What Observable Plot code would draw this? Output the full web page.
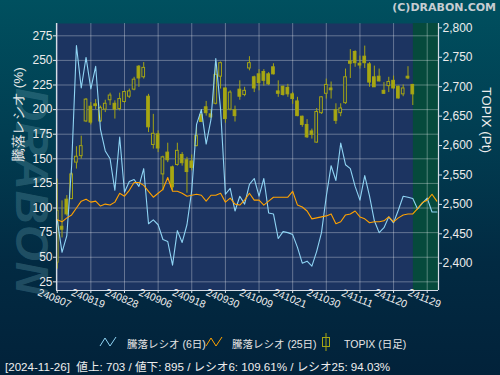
<!DOCTYPE html>
<html><head><meta charset="utf-8">
<script src="https://cdn.jsdelivr.net/npm/d3@7"></script>
<script src="https://cdn.jsdelivr.net/npm/@observablehq/plot@0.6"></script>
<style>
html,body{margin:0;padding:0;background:#02263d;}
#wrap{position:relative;width:500px;height:375px;overflow:hidden;
  background:linear-gradient(to bottom,#00505f 0%,#013e52 35%,#022a42 70%,#02223a 100%);
  font-family:"Liberation Sans","Noto Sans CJK JP",sans-serif;color:#e6e6e6;}
#wm{position:absolute;left:32px;top:192px;transform:translate(-50%,-50%) rotate(90deg);
  font:italic bold 46px "Liberation Sans",sans-serif;color:rgba(95,155,170,0.32);white-space:nowrap;letter-spacing:1px;}
#chart{position:absolute;left:0;top:0;}
#copy{position:absolute;right:4px;top:1px;font:bold 11px "DejaVu Sans",sans-serif;color:#c7cdd2;}
.lg{position:absolute;top:336px;font-size:10.5px;color:#e6e6e6;white-space:nowrap;}
#footer{position:absolute;left:5px;top:358px;font-size:11.6px;color:#eeeeee;white-space:pre;}
</style></head>
<body>
<div id="wrap">
  <div id="wm">DRABON</div>
  <div id="chart"></div>
  <div id="copy">(C)DRABON.COM</div>
  <div id="legend"></div>
  <div id="footer"></div>
</div>
<script>
// ---- data ----
const dates = ["2024-08-07","2024-08-08","2024-08-09","2024-08-13","2024-08-14","2024-08-15","2024-08-16","2024-08-19","2024-08-20","2024-08-21",
"2024-08-22","2024-08-23","2024-08-26","2024-08-27","2024-08-28","2024-08-29","2024-08-30","2024-09-02","2024-09-03","2024-09-04",
"2024-09-05","2024-09-06","2024-09-09","2024-09-10","2024-09-11","2024-09-12","2024-09-13","2024-09-17","2024-09-18","2024-09-19",
"2024-09-20","2024-09-24","2024-09-25","2024-09-26","2024-09-27","2024-09-30","2024-10-01","2024-10-02","2024-10-03","2024-10-04",
"2024-10-07","2024-10-08","2024-10-09","2024-10-10","2024-10-11","2024-10-15","2024-10-16","2024-10-17","2024-10-18","2024-10-21",
"2024-10-22","2024-10-23","2024-10-24","2024-10-25","2024-10-28","2024-10-29","2024-10-30","2024-10-31","2024-11-01","2024-11-05",
"2024-11-06","2024-11-07","2024-11-08","2024-11-11","2024-11-12","2024-11-13","2024-11-14","2024-11-15","2024-11-18","2024-11-19",
"2024-11-20","2024-11-21","2024-11-22","2024-11-25","2024-11-26","2024-11-27","2024-11-28","2024-11-29","2024-12-02","2024-12-03"];

const topixOpen = [2401,2462,2508,2509,2571,2582,2641,2666,2670,2641,2661,2677,2671,2662,2674,2683,2695,2734,2716,2683,
2601,2619,2551,2588,2563,2567,2584,2575,2573,2599,2652,2665,2653,2671,2717,2697,2661,2660,2695,2686,
2731,2716,2721,2725,2721,2733,2692,2700,2698,2687,2675,2649,2635,2624,2605,2655,2688,2697,2660,
2655,2672,2743,2759,2739,2751,2738,2716,2717,2693,2701,2710,2700,2687,2717,2703];
const topixHigh = [2543,2506,2515,2554,2598,2616,2680,2673,2678,2667,2677,2689,2676,2689,2692,2696,2716,2736,2741,2687,
2653,2625,2582,2604,2565,2604,2588,2580,2584,2632,2661,2675,2661,2741,2742,2698,2693,2667,2710,2699,
2751,2718,2729,2729,2724,2739,2710,2701,2704,2690,2682,2650,2644,2628,2663,2683,2713,2708,2671,
2671,2730,2763,2761,2752,2769,2741,2735,2730,2707,2716,2718,2701,2703,2734,2704];
const topixLow = [2390,2443,2480,2508,2560,2577,2639,2635,2661,2639,2656,2668,2645,2659,2672,2680,2693,2699,2713,2622,
2594,2588,2523,2571,2523,2565,2565,2519,2557,2598,2639,2650,2646,2669,2696,2638,2659,2640,2677,2683,
2727,2690,2693,2701,2702,2720,2682,2684,2682,2670,2649,2631,2612,2611,2604,2653,2679,2679,2636,
2649,2670,2714,2733,2730,2731,2699,2699,2708,2687,2690,2696,2679,2683,2712,2668];
const topixClose = [2489,2457,2483,2551,2581,2599,2678,2639,2667,2664,2671,2685,2661,2679,2691,2692,2712,2714,2732,2631,
2620,2595,2580,2575,2529,2591,2570,2555,2562,2616,2640,2655,2648,2720,2740,2645,2690,2650,2683,2693,
2740,2697,2706,2710,2704,2721,2688,2686,2687,2679,2650,2635,2614,2618,2657,2682,2703,2694,2642,
2663,2716,2739,2740,2736,2740,2707,2699,2709,2688,2708,2697,2680,2697,2714,2687];

const ratio6 = [88,55,72,143,265,222,253,221,244,180,158,150,118,172,116,127,129,122,140,84,
88,83,68,66,42,77,65,83,118,185,200,165,190,252,200,114,120,97,112,104,
124,130,112,130,95,94,69,76,75,73,60,44,46,41,56,75,112,143,128,166,
144,140,122,108,133,112,87,75,80,91,85,98,112,111,109.61,99,105,110,96,96];
const ratio25 = [88,86,90,93,100,107,109,106,107,102,104,103,106,115,112,118,126,126,123,117,
111,115,119,131,117,117,115,112,113,114,113,107,113,113,115,106,110,104,103,108,
115,108,108,103,107,111,111,111,111,117,103,101,97,89,90,91,92,94,84,86,
93,94,97,91,89,85,86,86,87,91,86,90,93,94,94.03,99.5,105.6,108,114,107];

const xTickLabels = ["240807","240819","240828","240906","240918","240930","241009","241021","241030","241111","241120","241129"];
const leftTicks = [25,50,75,100,125,150,175,200,225,250,275];
const rightTicks = [2400,2450,2500,2550,2600,2650,2700,2750,2800];
const highlightFrom = "2024-11-26";
const seriesNames = ["騰落レシオ (6日)","騰落レシオ (25日)","TOPIX (日足)"];
const yLabel = "騰落レシオ (%)";
const y2Label = "TOPIX (Pt)";
const footerText = "[2024-11-26]  値上: 703 / 値下: 895 / レシオ6: 109.61% / レシオ25: 94.03%";

// ---- scales ----
const xDomain = [-0.15, 79.35];
const yDomain = [16.2, 287.5];
const y2Domain = [2353.7, 2807.4];
const toLeft = d3.scaleLinear().domain(y2Domain).range(yDomain);

const C6 = "#8fd4f4", C25 = "#ffa200", CK = "#a4a414", BG = "#1c3461";

const rows = dates.map((d,i)=>({i, r6: ratio6[i], r25: ratio25[i]}));
const candles = topixOpen.map((o,i)=>({i, open:o, high:topixHigh[i], low:topixLow[i], close:topixClose[i]}));
const tickIdx = xTickLabels.map(l => dates.indexOf("20"+l.slice(0,2)+"-"+l.slice(2,4)+"-"+l.slice(4,6)));
const hlIdx = dates.indexOf(highlightFrom);

const chart = Plot.plot({
  width: 500, height: 330,
  marginLeft: 56, marginRight: 62, marginTop: 23, marginBottom: 40,
  style: {background:"transparent", fontFamily:"Liberation Sans, sans-serif", fontSize:"12px", color:"#e8e8e8", overflow:"visible"},
  x: {type:"linear", domain: xDomain, axis: null},
  y: {domain: yDomain, axis: null},
  marks: [
    Plot.frame({fill: BG, stroke: null}),
    Plot.rect([hlIdx], {x1: d => d + 0.12, x2: () => xDomain[1], y1: () => yDomain[0], y2: () => yDomain[1], fill: "#064a3c"}),
    Plot.gridY(leftTicks, {stroke:"#ffffff", strokeOpacity:0.32}),
    Plot.gridX(tickIdx, {stroke:"#ffffff", strokeOpacity:0.32}),
    Plot.ruleX(candles, {x:"i", y1: d=>toLeft(d.low), y2: d=>toLeft(d.high), stroke: CK, strokeWidth:1, clip:"frame"}),
    Plot.rect(candles, {x1: d=>d.i-0.28, x2: d=>d.i+0.28, y1: d=>toLeft(d.open), y2: d=>toLeft(d.close),
      fill: d => d.close < d.open ? "#a8a812" : BG, stroke: CK, strokeWidth:1, clip:"frame"}),
    Plot.line(rows, {x:"i", y:"r6", stroke: C6, strokeWidth:1.1, clip:"frame"}),
    Plot.line(rows, {x:"i", y:"r25", stroke: C25, strokeWidth:1.1, clip:"frame"}),
    Plot.ruleX([xDomain[0], xDomain[1]], {stroke:"#d6dce6", strokeWidth:1.2}),
    Plot.ruleY([yDomain[0]], {stroke:"#d6dce6", strokeWidth:1.2}),
    Plot.axisY(leftTicks, {anchor:"left", tickSize:3, tickPadding:1, stroke:"#e0e4ea", fill:"#ececec", fontSize:12, label:null}),
    Plot.axisY(rightTicks.map(t=>toLeft(t)), {anchor:"right", tickSize:3, tickPadding:1, stroke:"#e0e4ea", fill:"#ececec", fontSize:12, label:null,
      tickFormat: v => d3.format(",")(Math.round(toLeft.invert(v)))}),
    Plot.axisX(tickIdx, {anchor:"bottom", tickSize:3, tickFormat: () => "", stroke:"#e0e4ea", label:null}),
    Plot.text(tickIdx, {x: d=>d, text: (d,k)=>xTickLabels[k], frameAnchor:"bottom", dy:11, dx:-4, rotate:22, fontSize:10.5, fill:"#ececec"}),
    Plot.text([yLabel], {frameAnchor:"left", dx:-38, dy:5, rotate:-90, fontSize:13.5, fill:"#ececec"}),
    Plot.text([y2Label], {frameAnchor:"right", dx:48, dy:-4, rotate:90, fontSize:13.5, fill:"#ececec"})
  ]
});
document.getElementById("chart").appendChild(chart);

// ---- legend ----
const lg = document.getElementById("legend");
const zig = c => `<svg width="18" height="12" style="position:absolute;left:0;top:0"><polyline points="1,10 6,2 11,10 17,1" fill="none" stroke="${c}" stroke-width="1"/></svg>`;
const candleIcon = `<svg width="10" height="18" style="position:absolute;left:0;top:-3px"><line x1="5" y1="0" x2="5" y2="18" stroke="${CK}"/><rect x="1.5" y="4.5" width="7" height="9" fill="none" stroke="${CK}"/></svg>`;
const items = [
  {icon: zig(C6), ix: 99, tx: 127, name: seriesNames[0]},
  {icon: zig(C25), ix: 205, tx: 232, name: seriesNames[1]},
  {icon: candleIcon, ix: 321, tx: 344, name: seriesNames[2]}
];
items.forEach(it => {
  const a = document.createElement("div"); a.className="lg"; a.style.left = it.ix+"px"; a.style.width="18px"; a.style.height="14px";
  a.innerHTML = it.icon; lg.appendChild(a);
  const b = document.createElement("div"); b.className="lg"; b.style.left = it.tx+"px"; b.textContent = it.name; lg.appendChild(b);
});
document.getElementById("footer").textContent = footerText;
</script>
</body></html>
